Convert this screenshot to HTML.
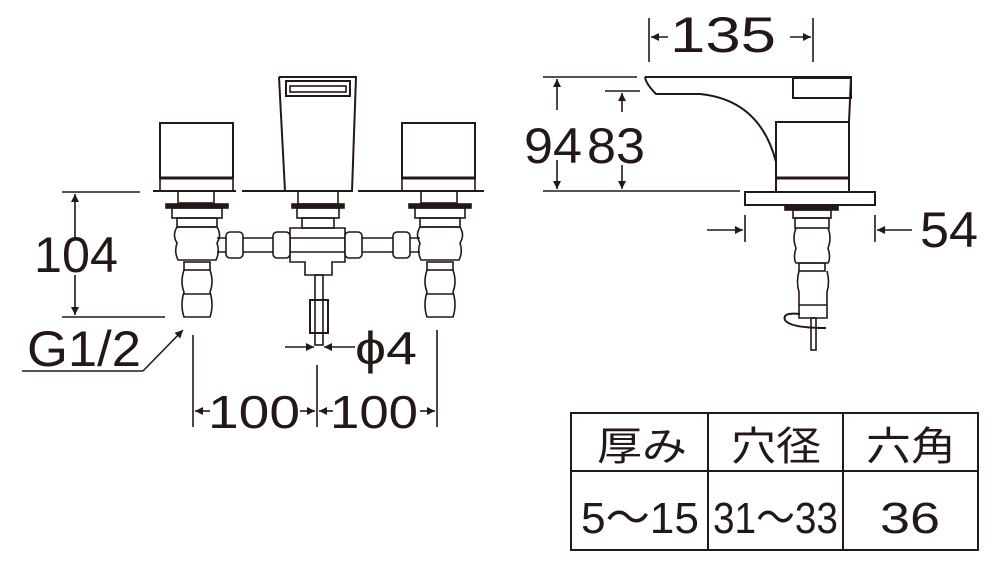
<!DOCTYPE html>
<html><head><meta charset="utf-8"><style>html,body{margin:0;padding:0;background:#fff}svg{display:block}</style></head><body>
<svg width="1000" height="568" viewBox="0 0 1000 568" xmlns="http://www.w3.org/2000/svg">
<defs>
<marker id="a" viewBox="0 0 10 10" refX="10" refY="5" markerWidth="12" markerHeight="8" markerUnits="userSpaceOnUse" orient="auto-start-reverse"><path d="M0,0L10,5L0,10z" fill="#231815"/></marker>
</defs>
<g fill="none" stroke="#231815" stroke-width="1.6">
<!-- left front view -->
<rect x="160" y="123" width="73" height="55" stroke-width="2"/>
<rect x="160" y="178" width="73" height="13"/>
<line x1="160" y1="178" x2="233" y2="178" stroke-width="3"/>
<rect x="402" y="123" width="73" height="55" stroke-width="2"/>
<rect x="402" y="178" width="73" height="13"/>
<line x1="402" y1="178" x2="475" y2="178" stroke-width="3"/>
<line x1="153" y1="191" x2="236" y2="191" stroke-width="2"/>
<line x1="242" y1="191" x2="353" y2="191" stroke-width="2"/>
<line x1="358" y1="191" x2="484" y2="191" stroke-width="2"/>
<path d="M279,77 L356,77 L352,191 M285,191 L279,77" stroke-width="2"/>
<rect x="286" y="81" width="64" height="15" stroke-width="2"/>
<rect x="290" y="86" width="56" height="6"/>
<!-- stems -->
<g id="valve">
<rect x="178" y="191" width="36" height="12"/>
<rect x="166" y="204" width="62" height="4" fill="#231815"/>
<rect x="172" y="208" width="50" height="10"/>
<rect x="177" y="218" width="40" height="9"/>
<path d="M177,227 Q172,235 177,243 Q174,252 178,260 L216,260 Q220,252 217,243 Q222,235 217,227 Z"/>
<rect x="184" y="262" width="26" height="8"/>
<path d="M184,270 Q180,282 184,292 Q180,305 184,317 L210,317 Q214,305 210,292 Q214,282 210,270"/>
<line x1="184" y1="294" x2="210" y2="294"/>
</g>
<use href="#valve" transform="translate(243,0)"/>
<rect x="298" y="191" width="40" height="13"/>
<rect x="292" y="204" width="52" height="4" fill="#231815"/>
<rect x="297" y="208" width="42" height="10"/>
<rect x="302" y="218" width="32" height="10"/>
<path d="M290,228 L345,228 L345,262 L332,262 L332,275 L305,275 L305,262 L290,262 Z"/>
<!-- pipes -->
<line x1="217" y1="238" x2="420" y2="238"/>
<line x1="217" y1="252" x2="420" y2="252"/>
<rect x="226" y="232" width="17" height="26" rx="4" fill="#fff"/>
<rect x="273" y="232" width="17" height="26" rx="4" fill="#fff"/>
<rect x="345" y="232" width="17" height="26" rx="4" fill="#fff"/>
<rect x="393" y="232" width="17" height="26" rx="4" fill="#fff"/>
<rect x="315" y="275" width="8" height="70"/>
<rect x="310" y="300" width="18" height="33" stroke-width="2"/>
<!-- right side view -->
<path d="M645,77 L851,77 L849,122 M645,77 Q646,84 656,94 L700,94 Q760,100 776,162" stroke-width="2"/>
<rect x="793" y="78" width="58" height="20" stroke-width="2"/>
<rect x="776" y="122" width="73" height="70" stroke-width="2"/>
<line x1="776" y1="178" x2="849" y2="178" stroke-width="3"/>
<rect x="745" y="192" width="130" height="13" stroke-width="2"/>
<rect x="785" y="205" width="53" height="5" fill="#231815"/>
<rect x="793" y="210" width="38" height="8"/>
<rect x="795" y="218" width="34" height="10"/>
<path d="M796,228 Q792,238 796,248 Q793,258 796,263 L828,263 Q831,258 828,248 Q832,238 828,228"/>
<rect x="799" y="263" width="26" height="8"/>
<path d="M799,271 Q796,282 799,292 L799,318 L827,318 L827,292 Q830,282 827,271"/>
<line x1="799" y1="305" x2="827" y2="305"/>
<rect x="811" y="318" width="5" height="32"/>
<path d="M800,314 Q782,312 785,320 Q790,328 826,328" stroke-width="2"/>
<!-- dimensions -->
<line x1="62" y1="192" x2="140" y2="192"/>
<line x1="62" y1="317" x2="165" y2="317"/>
<line x1="75" y1="240" x2="75" y2="194" marker-end="url(#a)"/>
<line x1="75" y1="275" x2="75" y2="315" marker-end="url(#a)"/>
<line x1="22" y1="371" x2="143" y2="371"/>
<line x1="143" y1="371" x2="183" y2="330" marker-end="url(#a)"/>
<line x1="193" y1="335" x2="193" y2="427"/>
<line x1="317" y1="365" x2="317" y2="427"/>
<line x1="437" y1="330" x2="437" y2="427"/>
<line x1="210" y1="411" x2="195" y2="411" marker-end="url(#a)"/>
<line x1="300" y1="411" x2="315" y2="411" marker-end="url(#a)"/>
<line x1="333" y1="411" x2="319" y2="411" marker-end="url(#a)"/>
<line x1="420" y1="411" x2="435" y2="411" marker-end="url(#a)"/>
<line x1="285" y1="347" x2="314" y2="347" marker-end="url(#a)"/>
<line x1="355" y1="347" x2="324" y2="347" marker-end="url(#a)"/>
<line x1="649" y1="18" x2="649" y2="62"/>
<line x1="813" y1="18" x2="813" y2="62"/>
<line x1="668" y1="37" x2="651" y2="37" marker-end="url(#a)"/>
<line x1="790" y1="37" x2="811" y2="37" marker-end="url(#a)"/>
<line x1="543" y1="77" x2="637" y2="77"/>
<line x1="543" y1="191" x2="740" y2="191"/>
<line x1="605" y1="91" x2="640" y2="91"/>
<line x1="557" y1="110" x2="557" y2="79" marker-end="url(#a)"/>
<line x1="557" y1="160" x2="557" y2="189" marker-end="url(#a)"/>
<line x1="622" y1="112" x2="622" y2="93" marker-end="url(#a)"/>
<line x1="622" y1="165" x2="622" y2="189" marker-end="url(#a)"/>
<line x1="745" y1="215" x2="745" y2="242"/>
<line x1="875" y1="215" x2="875" y2="242"/>
<line x1="707" y1="230" x2="743" y2="230" marker-end="url(#a)"/>
<line x1="912" y1="230" x2="877" y2="230" marker-end="url(#a)"/>
<!-- table -->
<rect x="571" y="413" width="407" height="137" stroke-width="2"/>
<line x1="571" y1="471" x2="978" y2="471" stroke-width="2"/>
<line x1="708" y1="413" x2="708" y2="550" stroke-width="2"/>
<line x1="843" y1="413" x2="843" y2="550" stroke-width="2"/>
</g>
<g fill="#231815" font-family="Liberation Sans, 'Noto Sans CJK JP', sans-serif" font-size="50">
<text x="34" y="272" textLength="84" lengthAdjust="spacingAndGlyphs">104</text>
<text x="27" y="366" textLength="114" lengthAdjust="spacingAndGlyphs">G1/2</text>
<text x="208" y="428" font-size="46" textLength="92" lengthAdjust="spacingAndGlyphs">100</text>
<text x="330" y="428" font-size="46" textLength="88" lengthAdjust="spacingAndGlyphs">100</text>
<text x="355" y="364" font-size="46" textLength="62" lengthAdjust="spacingAndGlyphs">ϕ4</text>
<text x="670" y="52" textLength="106" lengthAdjust="spacingAndGlyphs">135</text>
<text x="524" y="163" textLength="58" lengthAdjust="spacingAndGlyphs">94</text>
<text x="587" y="163" textLength="58" lengthAdjust="spacingAndGlyphs">83</text>
<text x="920" y="247" textLength="58" lengthAdjust="spacingAndGlyphs">54</text>
<g font-size="40">
<text x="597" y="460" textLength="90" lengthAdjust="spacingAndGlyphs">厚み</text>
<text x="731" y="460" textLength="90" lengthAdjust="spacingAndGlyphs">穴径</text>
<text x="866" y="460" textLength="90" lengthAdjust="spacingAndGlyphs">六角</text>
<text x="581" y="533" font-size="44" textLength="118" lengthAdjust="spacingAndGlyphs">5～15</text>
<text x="713" y="533" font-size="44" textLength="125" lengthAdjust="spacingAndGlyphs">31～33</text>
<text x="880" y="533" font-size="44" textLength="60" lengthAdjust="spacingAndGlyphs">36</text>
</g>
</g>
</svg>
</body></html>
